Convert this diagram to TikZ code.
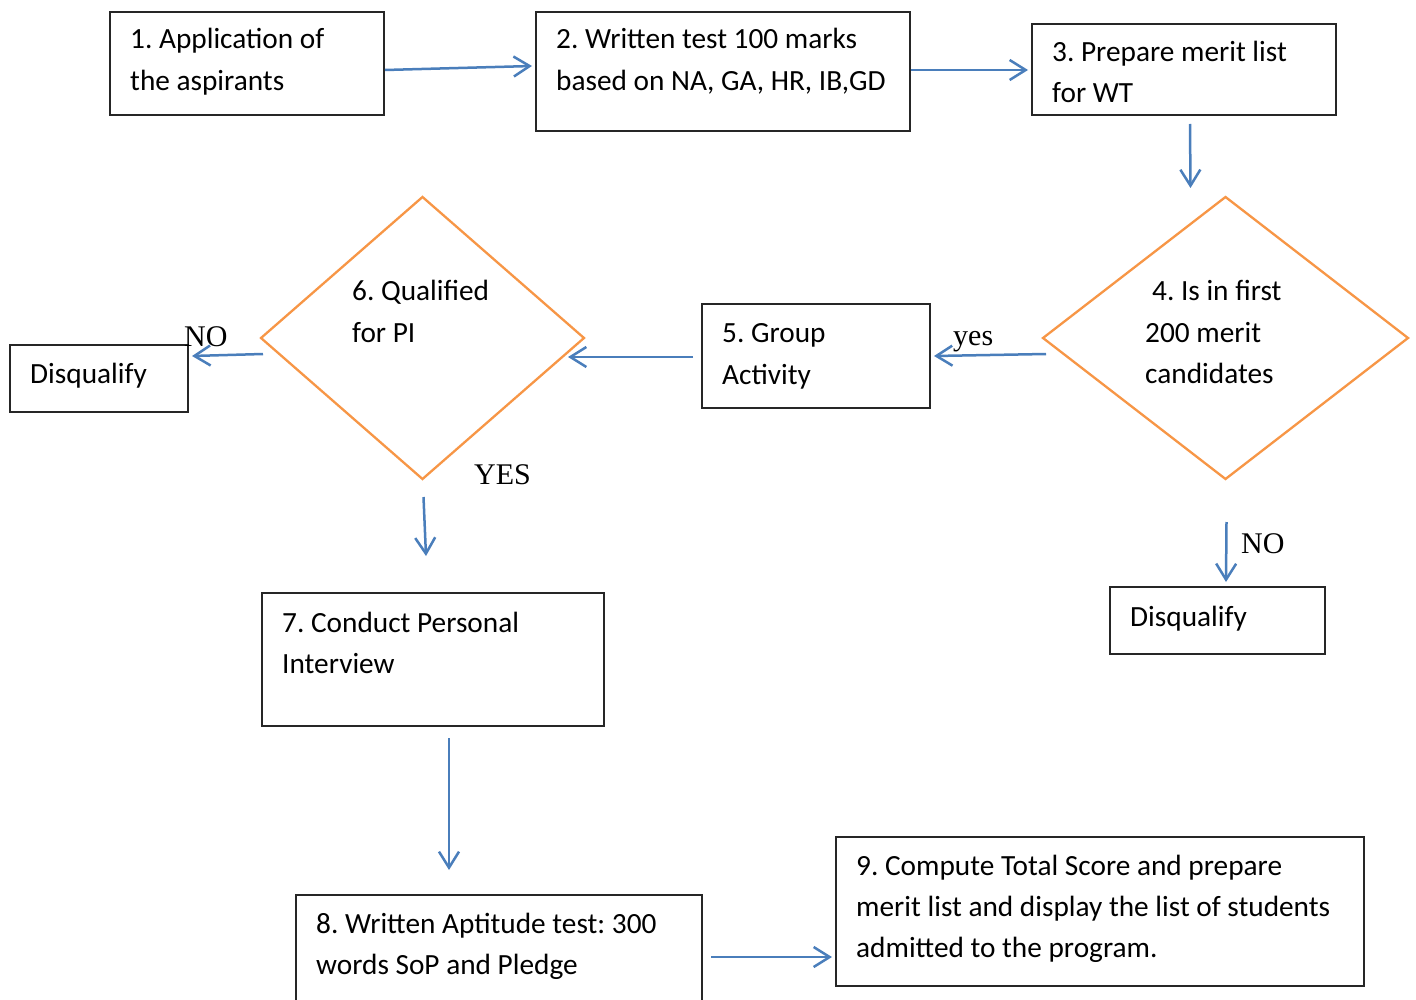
\documentclass[tikz,border=0pt]{standalone}
\usepackage{fontspec}
\setmainfont{Carlito}
\newfontfamily\timesf{Liberation Serif}
\usetikzlibrary{arrows.meta,shapes.geometric,calc}
\definecolor{cblue}{HTML}{4A7EBB}
\definecolor{corange}{HTML}{F79646}
\begin{document}
\frenchspacing
\begin{tikzpicture}[x=1pt,y=-1pt,
 box/.style={draw=black!85, line width=1.4pt, rectangle, inner sep=0pt, outer sep=0pt, anchor=north west},
 dia/.style={draw=corange, line width=2.3pt, diamond, inner sep=0pt, outer sep=0pt},
 arr/.style={draw=cblue, line width=2.5pt, -{Straight Barb[length=16pt,width=20pt]}},
 txt/.style={font=\fontsize{29.3}{41}\selectfont, inner sep=0pt, anchor=base west},
 lbl/.style={font=\timesf\fontsize{30}{36}\selectfont, inner sep=0pt, anchor=base west}]
\clip (0,0) rectangle (1416,1000);
\fill[white] (0,0) rectangle (1416,1000);
% boxes
\node[box, minimum width=274pt, minimum height=103pt] (b1) at (110,12) {};
\node[box, minimum width=374pt, minimum height=119pt] (b2) at (536,12) {};
\node[box, minimum width=304pt, minimum height=91pt] (b3) at (1032,24) {};
\node[dia, minimum width=365pt, minimum height=282pt] (d4) at (1225.5,338) {};
\node[box, minimum width=228pt, minimum height=104pt] (b5) at (702,304) {};
\node[dia, minimum width=323pt, minimum height=282pt] (d6) at (422.5,338) {};
\node[box, minimum width=178pt, minimum height=67pt] (q1) at (10,345) {};
\node[box, minimum width=342pt, minimum height=133pt] (b7) at (262,593) {};
\node[box, minimum width=215pt, minimum height=67pt] (q2) at (1110,587) {};
\node[box, minimum width=406pt, minimum height=120pt] (b8) at (296,895) {};
\node[box, minimum width=528pt, minimum height=149pt] (b9) at (836,837) {};
% texts
\node[txt] (t1a) at (130,49) {1. Application of};
\node[txt] (t1b) at (130,91) {the aspirants};
\node[txt] (t2a) at (556,49) {2. Written test 100 marks};
\node[txt] (t2b) at (556,91) {based on NA, GA, HR, IB,GD};
\node[txt] (t3a) at (1052,62) {3. Prepare merit list};
\node[txt] (t3b) at (1052,103) {for WT};
\node[txt] (t4a) at (1152,301) {4. Is in first};
\node[txt] (t4b) at (1145,342) {200 merit};
\node[txt] (t4c) at (1145,383) {candidates};
\node[txt] (t5a) at (722,342) {5. Group};
\node[txt] (t5b) at (722,384) {Activity};
\node[txt] (t6a) at (352,301) {6. Qualified};
\node[txt] (t6b) at (352,342) {for PI};
\node[txt] (tq1) at (30,383) {Disqualify};
\node[txt] (t7a) at (282,632) {7. Conduct Personal};
\node[txt] (t7b) at (282,673) {Interview};
\node[txt] (tq2) at (1130,626) {Disqualify};
\node[txt] (t8a) at (316,933) {8. Written Aptitude test: 300};
\node[txt] (t8b) at (316,974) {words SoP and Pledge};
\node[txt] (t9a) at (856,875) {9. Compute Total Score and prepare};
\node[txt] (t9b) at (856,916) {merit list and display the list of students};
\node[txt] (t9c) at (856,957) {admitted to the program.};
% labels
\node[lbl] (lno1) at (184,346) {NO};
\node[lbl] (lyes) at (953,345) {yes};
\node[lbl] (lYES) at (474,484) {YES};
\node[lbl] (lno2) at (1241,553) {NO};
% arrows
\draw[arr] ($(b1.east)+(1,6.5)$) -- ($(b2.west)+(-4,-5.5)$);
\draw[arr] ($(b2.east)+(1,-1.5)$) -- ($(b3.west)+(-4,0.5)$);
\draw[arr] ($(b3.south)+(6,9)$) -- ($(d4.north)+(-35,-9)$);
\draw[arr] ($(d4.west)+(3,16)$) -- ($(b5.east)+(4,0)$);
\draw[arr] ($(b5.west)+(-9,1)$) -- ($(d6.east)+(-16,19)$);
\draw[arr] ($(d6.west)+(2,16)$) -- ($(q1.east)+(4,-22.5)$);
\draw[arr] ($(d6.south)+(1,18)$) -- ($(b7.north)+(-7,-37)$);
\draw[arr] ($(b7.south)+(16,12)$) -- ($(b8.north)+(-50,-25)$);
\draw[arr] ($(d4.south)+(1,43)$) -- ($(q2.north)+(8.5,-5)$);
\draw[arr] ($(b8.east)+(9,2)$) -- ($(b9.west)+(-4,45.5)$);
\end{tikzpicture}
\end{document}
